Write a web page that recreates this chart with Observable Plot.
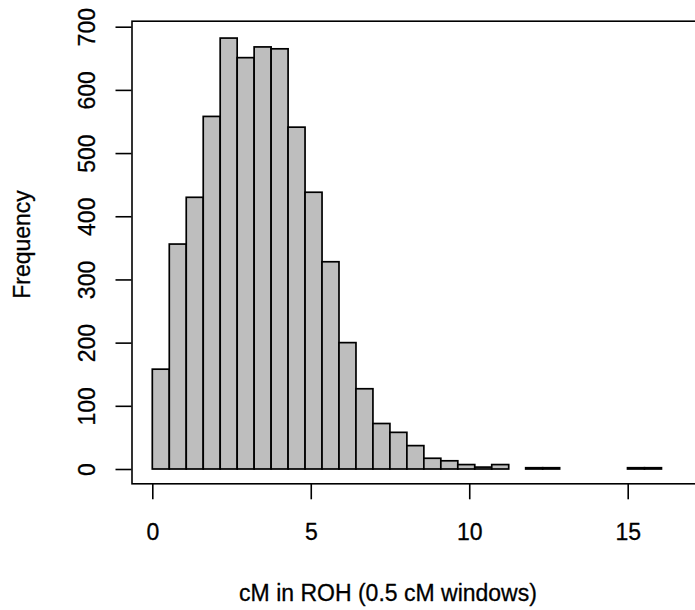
<!DOCTYPE html>
<html>
<head>
<meta charset="utf-8">
<script src="https://cdn.jsdelivr.net/npm/d3@7"></script>
<script src="https://cdn.jsdelivr.net/npm/@observablehq/plot@0.6"></script>
<style>
  html, body { margin: 0; padding: 0; background: white; }
</style>
</head>
<body>
<div id="chart"></div>
<script>
// Histogram bins (left edges in cM) and their frequencies
const binStart = [0, 0.536, 1.071, 1.607, 2.142, 2.678, 3.213, 3.749, 4.284, 4.820,
                  5.355, 5.891, 6.426, 6.962, 7.497, 8.033, 8.568, 9.104, 9.639, 10.175,
                  10.710, 11.781, 12.317, 14.994, 15.530];
const binWidth = 0.5355;
const counts = [158, 356, 430, 558, 682, 651, 668, 665, 541, 438,
                328, 200, 127, 72, 58, 37, 17, 13, 7, 3,
                7, 2, 2, 2, 2];
const xTicks = [0, 5, 10, 15];
const yTicks = [0, 100, 200, 300, 400, 500, 600, 700];
const xLabel = "cM in ROH (0.5 cM windows)";
const yLabel = "Frequency";

const bins = binStart.map((x, i) => ({x1: x, x2: x + binWidth, count: counts[i]}));

const FONT = 23;
const chart = Plot.plot({
  width: 695,
  height: 610,
  marginLeft: 131.5,
  marginRight: -10,
  marginTop: 20.7,
  marginBottom: 126.7,
  style: {fontFamily: "'Liberation Sans', Arial, sans-serif", fontSize: FONT + "px", color: "black", background: "white"},
  x: {domain: [0, 15], range: [152.3, 627.7], label: null},
  y: {domain: [0, 700], range: [469, 26.7], label: null},
  marks: [
    Plot.rectY(bins, {x1: "x1", x2: "x2", y1: 0, y2: "count", fill: "#bebebe", stroke: "black", strokeWidth: 1.7}),
    Plot.frame({stroke: "black", strokeWidth: 1.6}),
    Plot.axisX({ticks: xTicks, tickSize: 16, tickFormat: () => "", strokeWidth: 1.6, label: null}),
    Plot.axisY({ticks: yTicks, tickSize: 16, tickFormat: () => "", strokeWidth: 1.6, label: null}),
    Plot.text(xTicks, {x: d => d, text: d => String(d), frameAnchor: "bottom", dy: 49, lineAnchor: "middle", fontSize: FONT, fill: "black", stroke: "black", strokeWidth: 0.3}),
    Plot.text(yTicks, {y: d => d, text: d => String(d), frameAnchor: "left", dx: -44, rotate: -90, textAnchor: "middle", lineAnchor: "middle", fontSize: FONT, fill: "black", stroke: "black", strokeWidth: 0.3}),
    Plot.text([xLabel], {text: d => d, frameAnchor: "bottom-left", dx: 256, dy: 110, textAnchor: "middle", lineAnchor: "middle", fontSize: FONT, fill: "black", stroke: "black", strokeWidth: 0.3}),
    Plot.text([yLabel], {text: d => d, frameAnchor: "left", dx: -109, dy: -8, rotate: -90, textAnchor: "middle", lineAnchor: "middle", fontSize: FONT, fill: "black", stroke: "black", strokeWidth: 0.3})
  ]
});
document.getElementById("chart").appendChild(chart);
</script>
</body>
</html>
